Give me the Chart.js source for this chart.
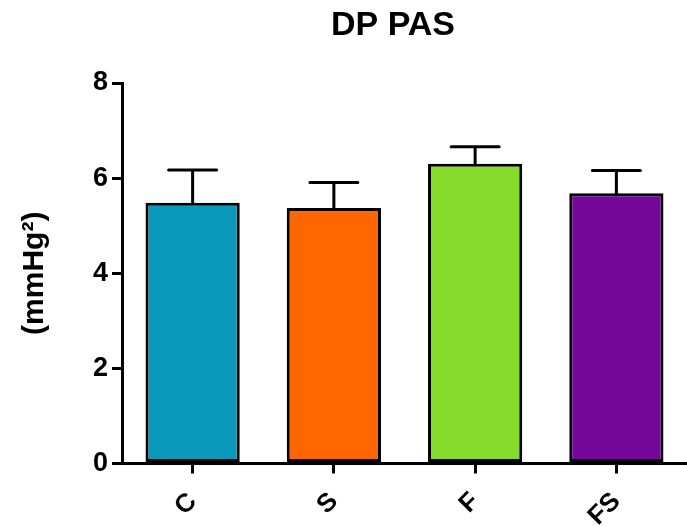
<!DOCTYPE html>
<html>
<head>
<meta charset="utf-8">
<script src="https://cdn.jsdelivr.net/npm/chart.js@4.4.1/dist/chart.umd.min.js"></script>
<style>
  html, body { margin: 0; padding: 0; background: #fff; }
  #wrap { width: 687px; height: 526px; }
</style>
</head>
<body>
<div id="wrap"><canvas id="chart"></canvas></div>
<script>
const chartTitle = "DP PAS";
const axisTitle = "(mmHg²)";
const categories = ["C", "S", "F", "FS"];
const means = [5.48, 5.37, 6.30, 5.68];
const errorTops = [6.17, 5.91, 6.66, 6.16];
const barColors = ["#0999BA", "#FF6600", "#87DB2A", "#75079A"];
const yTicks = [0, 2, 4, 6, 8];

const FONT = "'Liberation Sans', Arial, sans-serif";

// upper error bars with a cap, drawn over the bars
const errorBars = {
  id: "errorBars",
  afterDatasetsDraw(chart) {
    const { ctx, scales } = chart;
    const meta = chart.getDatasetMeta(0);
    ctx.save();
    ctx.strokeStyle = "#000";
    ctx.lineWidth = 3;
    ctx.lineCap = "round";
    meta.data.forEach((bar, i) => {
      const x = bar.x;
      const yTop = scales.y.getPixelForValue(errorTops[i]);
      const yBase = scales.y.getPixelForValue(means[i]);
      ctx.beginPath();
      ctx.moveTo(x, yBase);
      ctx.lineTo(x, yTop);
      ctx.moveTo(x - 24, yTop);
      ctx.lineTo(x + 24, yTop);
      ctx.stroke();
    });
    ctx.restore();
  },
};

const titleText = {
  id: "titleText",
  afterDraw(chart) {
    const { ctx } = chart;
    ctx.save();
    ctx.fillStyle = "#000";
    ctx.font = `bold 34px ${FONT}`;
    ctx.textAlign = "center";
    ctx.textBaseline = "middle";
    ctx.fillText(chartTitle, 393, 26);
    ctx.restore();
  },
};

new Chart(document.getElementById("chart"), {
  type: "bar",
  data: {
    labels: categories,
    datasets: [
      {
        data: means,
        backgroundColor: barColors,
        borderColor: "#000",
        borderWidth: 3,
        borderSkipped: false,
        categoryPercentage: 1,
        barPercentage: 0.667,
      },
    ],
  },
  options: {
    responsive: true,
    maintainAspectRatio: false,
    animation: false,
    layout: { padding: { top: 83, left: 0, right: 0, bottom: 0 } },
    plugins: {
      legend: { display: false },
      title: { display: false },
      tooltip: { enabled: false },
    },
    scales: {
      x: {
        offset: true,
        grid: { display: true, offset: false, drawOnChartArea: false, tickLength: 10, tickColor: "#000", lineWidth: 3 },
        border: { color: "#000", width: 3 },
        ticks: {
          color: "#000",
          font: { family: FONT, size: 26, weight: "bold" },
          minRotation: 45,
          maxRotation: 45,
          padding: 13,
        },
        afterFit(scale) {
          scale.height = 62.5;
        },
      },
      y: {
        min: 0,
        max: 8,
        afterBuildTicks(scale) {
          scale.ticks = yTicks.map((v) => ({ value: v }));
        },
        grid: { display: true, drawOnChartArea: false, tickLength: 10, tickColor: "#000", lineWidth: 3 },
        border: { color: "#000", width: 3 },
        ticks: {
          color: "#000",
          font: { family: FONT, size: 27, weight: "bold" },
          padding: 4,
        },
        title: {
          display: true,
          text: axisTitle,
          color: "#000",
          font: { family: FONT, size: 30, weight: "bold" },
          padding: { top: 17, bottom: 0 },
        },
        afterFit(scale) {
          scale.width = 122;
        },
      },
    },
  },
  plugins: [errorBars, titleText],
});
</script>
</body>
</html>
